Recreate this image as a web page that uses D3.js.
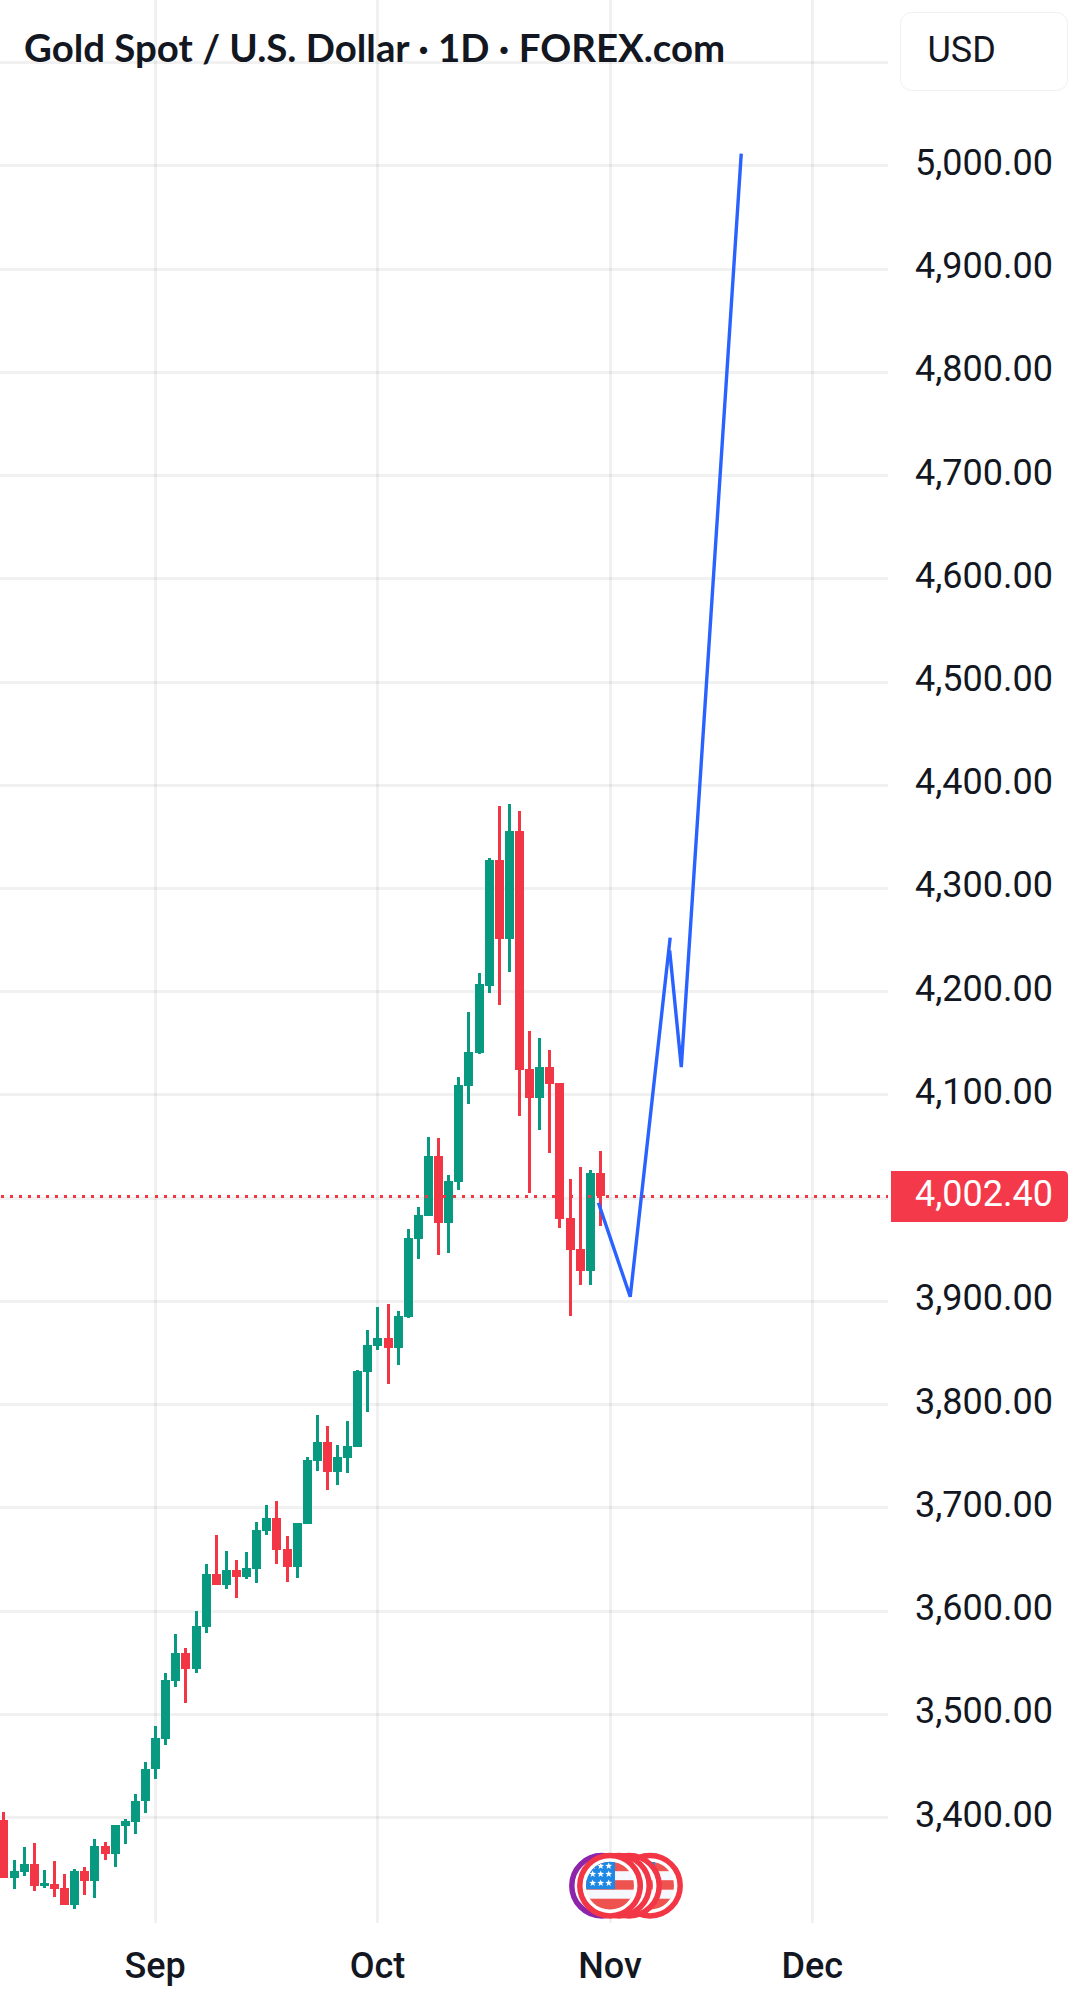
<!DOCTYPE html>
<html>
<head>
<meta charset="utf-8">
<script src="https://cdn.jsdelivr.net/npm/d3@7"></script>
<style>
  html, body { margin: 0; padding: 0; background: #fff; }
  svg { display: block; }
</style>
</head>
<body>
<svg id="chart" width="1080" height="2007"></svg>
<script>
// Daily XAU/USD candles, first session 11 Aug 2025, one value per weekday session.
const firstSession = "2025-08-11";
const opens  = [3398,3341,3347,3355,3334,3336,3332,3315,3348,3338,3372,3365,3392,3396,3416,3447,3476,3532,3559,3544,3585,3636,3625,3640,3633,3641,3678,3690,3660,3643,3684,3745,3764,3735,3748,3759,3832,3857,3865,3855,3885,3960,3983,4041,3976,4016,4109,4141,4206,4328,4251,4356,4125,4097,4127,4112,3981,3951,3929,4024];
const highs  = [3405,3359,3371,3375,3349,3358,3345,3350,3352,3379,3376,3393,3399,3423,3454,3489,3540,3578,3564,3600,3646,3674,3658,3649,3657,3686,3703,3707,3673,3685,3749,3790,3779,3761,3784,3834,3872,3895,3897,3891,3970,3991,4059,4058,4022,4117,4180,4218,4330,4380,4382,4375,4162,4155,4144,4112,4019,4030,4027,4046];
const lows   = [3341,3331,3343,3329,3332,3323,3315,3311,3325,3322,3359,3352,3374,3384,3404,3437,3470,3526,3511,3540,3579,3625,3621,3613,3631,3627,3674,3646,3628,3632,3684,3736,3717,3722,3734,3759,3793,3853,3820,3838,3884,3941,3983,3945,3947,4008,4091,4140,4199,4187,4219,4080,4005,4066,4044,3971,3886,3916,3916,3973];
const closes = [3341,3348,3355,3334,3337,3331,3315,3348,3338,3372,3365,3393,3397,3416,3447,3477,3533,3559,3544,3586,3636,3625,3640,3633,3642,3679,3690,3659,3643,3685,3746,3764,3735,3749,3760,3833,3858,3865,3855,3886,3961,3984,4041,3976,4017,4110,4142,4207,4328,4251,4356,4124,4097,4127,4111,3980,3950,3929,4024,4002.4];

// Hand-drawn projection, in session numbers and prices.
const projectionDown = { sessions: [58.8, 61.95, 65.9], prices: [3995.5, 3904.5, 4252.4] };
const projectionUp   = { sessions: [65.85, 67.0, 72.93], prices: [4240, 4127, 5011.9] };

const priceLabels = [3400,3500,3600,3700,3800,3900,4100,4200,4300,4400,4500,4600,4700,4800,4900,5000];
const priceGrid   = [3400,3500,3600,3700,3800,3900,4000,4100,4200,4300,4400,4500,4600,4700,4800,4900,5000,5100];
const monthLabels = ["Sep","Oct","Nov","Dec"];
const monthStarts = ["2025-09-01","2025-10-01","2025-11-03","2025-12-01"];
const lastPrice = 4002.4;

const titleText = "Gold Spot / U.S. Dollar · 1D · FOREX.com";
const currencyText = "USD";

const GREEN = "#089981", RED = "#f23645", BLUE = "#2962ff", INK = "#131722";
const PANE_RIGHT = 888, PANE_BOTTOM = 1923;
const SANS = "Roboto, sans-serif";

// Weekday sessions give the time axis: weekends take no room.
const sessions = d3.utcDay.range(new Date(firstSession), new Date("2026-01-01"))
  .filter(d => d.getUTCDay() % 6 !== 0);
const sessionOf = iso => sessions.findIndex(d => +d === +new Date(iso));

const x = d3.scaleLinear().domain([0, 1]).range([3.92, 14.03]);
const y = d3.scaleLinear().domain([3400, 5000]).range([1817.5, 165.9]);

const svg = d3.select("#chart");
svg.append("rect").attr("width", 1080).attr("height", 2007).attr("fill", "#fff");

// Grid
const grid = svg.append("g").attr("stroke", "#000").attr("stroke-opacity", 0.055)
  .attr("stroke-width", 3).attr("shape-rendering", "crispEdges");
grid.selectAll("line.h").data(priceGrid).join("line").attr("class", "h")
  .attr("x1", 0).attr("x2", PANE_RIGHT)
  .attr("y1", d => Math.round(y(d) - 0.5) + 0.5).attr("y2", d => Math.round(y(d) - 0.5) + 0.5);
grid.selectAll("line.v").data(monthStarts).join("line").attr("class", "v")
  .attr("y1", 0).attr("y2", PANE_BOTTOM)
  .attr("x1", d => Math.round(x(sessionOf(d)) - 0.5) + 0.5)
  .attr("x2", d => Math.round(x(sessionOf(d)) - 0.5) + 0.5);

// Candles
const candles = svg.append("g").attr("shape-rendering", "crispEdges")
  .selectAll("g").data(opens.map((o, i) => ({ i, o, h: highs[i], l: lows[i], c: closes[i] })))
  .join("g").attr("fill", d => d.c >= d.o ? GREEN : RED);
const bodyLeft = d => Math.round(x(d.i) - 4.5);
candles.append("rect").attr("x", d => bodyLeft(d) + 3).attr("width", 3)
  .attr("y", d => Math.round(y(d.h)))
  .attr("height", d => Math.round(y(d.l)) - Math.round(y(d.h)));
candles.append("rect").attr("x", bodyLeft).attr("width", 9)
  .attr("y", d => Math.round(y(Math.max(d.o, d.c))))
  .attr("height", d => Math.max(1, Math.round(y(Math.min(d.o, d.c))) - Math.round(y(Math.max(d.o, d.c)))));

// Last price line
svg.append("line").attr("x1", 1).attr("x2", PANE_RIGHT)
  .attr("y1", 1196.5).attr("y2", 1196.5)
  .attr("stroke", RED).attr("stroke-width", 3).attr("stroke-dasharray", "3 6.03")
  .attr("shape-rendering", "crispEdges")
  .attr("transform", `translate(0,${y(lastPrice) - 1195.8})`);

// Projection drawn over the candles
const line = d3.line().x(d => x(d[0])).y(d => y(d[1])).curve(d3.curveLinear);
[projectionDown, projectionUp].forEach(leg => {
  svg.append("path").datum(d3.zip(leg.sessions, leg.prices)).attr("d", line)
    .attr("fill", "none").attr("stroke", BLUE).attr("stroke-width", 3.4)
    .attr("stroke-linejoin", "bevel");
});

// Price scale
const yAxis = svg.append("g").attr("transform", "translate(1053,0)")
  .call(d3.axisRight(y).tickValues(priceLabels).tickSize(0).tickFormat(d3.format(",.2f")));
yAxis.select(".domain").remove();
yAxis.selectAll("text").attr("x", 0).attr("y", 8.5).attr("dy", null)
  .attr("text-anchor", "end").attr("fill", INK)
  .attr("font-family", SANS).attr("font-size", 36);

// Last price tag
const tagTop = 1171, tagBottom = 1222, tagLeft = 891, tagRight = 1068, tagR = 5;
svg.append("path").attr("fill", "#f43a4a")
  .attr("d", `M${tagLeft},${tagTop}H${tagRight - tagR}Q${tagRight},${tagTop} ${tagRight},${tagTop + tagR}V${tagBottom - tagR}Q${tagRight},${tagBottom} ${tagRight - tagR},${tagBottom}H${tagLeft}Z`);
svg.append("text").attr("x", 1053).attr("y", y(lastPrice) + 10.7).attr("text-anchor", "end")
  .attr("fill", "#fff").attr("font-family", SANS).attr("font-size", 36)
  .text(d3.format(",.2f")(lastPrice));

// Time scale
const xAxis = svg.append("g").attr("transform", "translate(-1,0)")
  .call(d3.axisBottom(x).tickValues(monthStarts.map(sessionOf)).tickSize(0)
    .tickFormat((d, i) => monthLabels[i]));
xAxis.select(".domain").remove();
xAxis.selectAll("text").attr("y", 1978).attr("dy", null)
  .attr("fill", INK).attr("font-family", SANS).attr("font-size", 36).attr("font-weight", 500);

// Title and currency button
svg.append("text").attr("x", 24).attr("y", 61.5).attr("fill", INK)
  .attr("font-family", "Lato, sans-serif").attr("font-weight", 700).attr("font-size", 38.4)
  .text(titleText);
svg.append("rect").attr("x", 900.5).attr("y", 12.5).attr("width", 167).attr("height", 78).attr("rx", 11)
  .attr("fill", "#fff").attr("stroke", "#f0f0f0").attr("stroke-width", 1);
svg.append("text").attr("x", 927.5).attr("y", 62).attr("fill", INK)
  .attr("font-family", SANS).attr("font-size", 36).text(currencyText);

// Economic event badges along the bottom of the pane
const defs = svg.append("defs");
defs.append("clipPath").attr("id", "flag-clip").append("circle").attr("r", 24);

function starPath(cx, cy, r) {
  const pts = d3.range(10).map(k => {
    const a = -Math.PI / 2 + k * Math.PI / 5, rr = k % 2 ? r * 0.42 : r;
    return [cx + rr * Math.cos(a), cy + rr * Math.sin(a)];
  });
  return "M" + pts.map(p => p.join(",")).join("L") + "Z";
}

function badge(cx, ring) {
  const g = svg.append("g").attr("transform", `translate(${cx},1885.7)`);
  g.append("circle").attr("r", 30.2).attr("fill", "#fff").attr("stroke", ring).attr("stroke-width", 5.5);
  const f = g.append("g").attr("clip-path", "url(#flag-clip)");
  f.append("rect").attr("x", -24).attr("y", -24).attr("width", 48).attr("height", 48).attr("fill", "#f5f8ff");
  [-24, -5.5, 13].forEach(top => {
    f.append("rect").attr("x", -24).attr("y", top).attr("width", 48)
      .attr("height", top === 13 ? 11 : 9.5).attr("fill", "#ef5350");
  });
  f.append("rect").attr("x", -24).attr("y", -26).attr("width", 29).attr("height", 29.5).attr("fill", "#1e88e5");
  [-17.3, -9.3, -1.3].forEach(sx => [-19.7, -11.7, -2.7].forEach(sy => {
    f.append("path").attr("d", starPath(sx, sy, 3.6)).attr("fill", "#fff");
  }));
}
badge(650, RED);
badge(629, RED);
badge(619, RED);
badge(602, "#8e24aa");
badge(610, RED);
</script>
</body>
</html>
